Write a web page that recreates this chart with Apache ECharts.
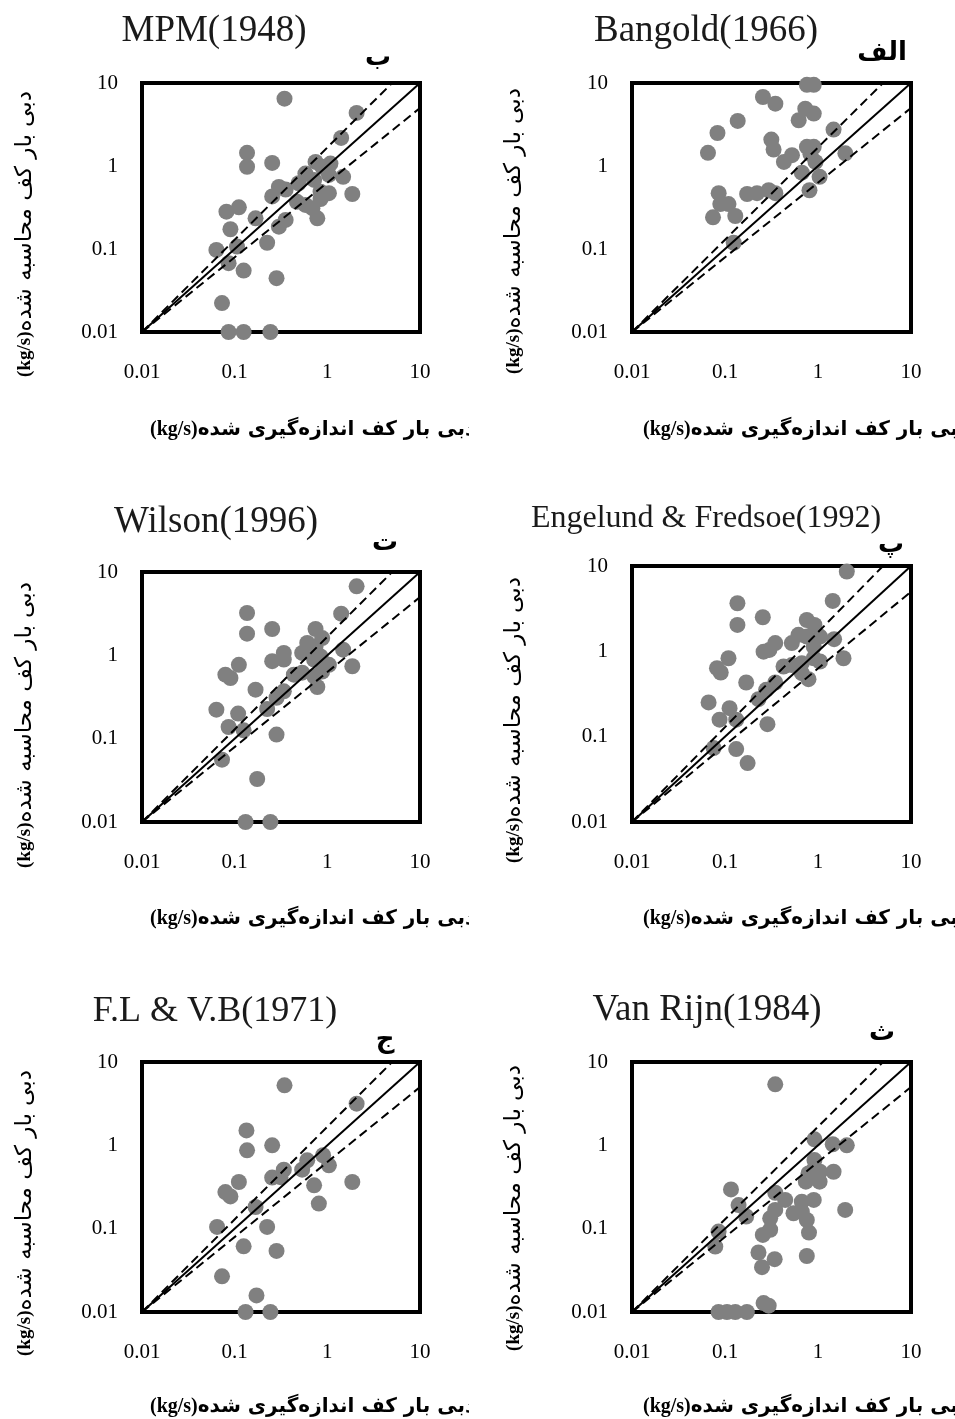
<!DOCTYPE html>
<html>
<head>
<meta charset="utf-8">
<script src="https://cdn.jsdelivr.net/npm/echarts@6/dist/echarts.min.js"></script>
<style>
html,body{margin:0;padding:0;background:#fff;}
#c{width:955px;height:1419px;}
</style>
</head>
<body>
<div id="c"></div>
<script>
// ---------- data ----------
const tickValues = [0.01, 0.1, 1, 10];
const tickLabels = ['0.01', '0.1', '1', '10'];
const titles = ['MPM(1948)', 'Bangold(1966)', 'Wilson(1996)', 'Engelund & Fredsoe(1992)', 'F.L & V.B(1971)', 'Van Rijn(1984)'];
const panelLetters = ['ب', 'الف', 'ت', 'پ', 'ج', 'ث'];
const xAxisTitle = 'دبی بار کف اندازه\u200cگیری شده';
const yAxisTitle = 'دبی بار کف محاسبه شده';
const unitLabel = '(kg/s)';

// MPM(1948)
const mpmX = [0.345, 2.07, 1.41, 0.136, 0.136, 0.254, 0.746, 0.88, 1.04, 0.58, 1.48, 0.72, 0.49, 0.30, 0.355, 0.254, 0.845, 1.04, 1.86, 0.845, 0.47, 0.58, 0.69, 0.78, 0.168, 0.355, 0.30, 0.111, 0.0815, 0.090, 0.106, 0.0635, 0.086, 0.224, 0.125, 0.283, 0.073, 0.086, 0.125, 0.243, 1.08];
const mpmY = [6.47, 4.36, 2.18, 1.44, 0.98, 1.09, 1.12, 0.98, 0.78, 0.81, 0.74, 0.68, 0.62, 0.56, 0.52, 0.43, 0.49, 0.47, 0.46, 0.40, 0.37, 0.34, 0.31, 0.234, 0.234, 0.224, 0.186, 0.318, 0.282, 0.173, 0.107, 0.0975, 0.0675, 0.119, 0.055, 0.0445, 0.0223, 0.01, 0.01, 0.01, 1.07];

// Bangold(1966)
const bagX = [0.76, 0.90, 0.256, 0.348, 0.73, 0.90, 0.62, 0.137, 0.083, 1.47, 0.315, 0.333, 0.0656, 0.76, 0.90, 0.83, 0.525, 0.43, 1.97, 0.94, 0.67, 1.04, 0.81, 0.0855, 0.173, 0.221, 0.295, 0.348, 0.089, 0.109, 0.0743, 0.129, 0.124];
const bagY = [9.5, 9.5, 6.78, 5.64, 4.91, 4.28, 3.56, 3.49, 2.50, 2.75, 2.08, 1.58, 1.44, 1.70, 1.70, 1.39, 1.35, 1.12, 1.42, 1.12, 0.83, 0.74, 0.51, 0.47, 0.46, 0.47, 0.51, 0.47, 0.348, 0.348, 0.241, 0.25, 0.119];

// Wilson(1996)
const wilX = [2.07, 0.136, 1.41, 0.136, 0.254, 0.746, 0.88, 0.607, 0.746, 0.339, 0.535, 1.48, 0.254, 0.339, 0.111, 1.04, 0.845, 1.86, 0.0794, 0.090, 0.435, 0.535, 0.72, 0.88, 0.78, 0.168, 0.339, 0.283, 0.224, 0.0635, 0.109, 0.086, 0.125, 0.283, 0.073, 0.175, 0.131, 0.243, 0.72];
const wilY = [6.73, 3.22, 3.16, 1.82, 2.07, 2.07, 1.61, 1.41, 1.28, 1.07, 1.07, 1.17, 0.85, 0.89, 0.77, 0.77, 0.97, 0.74, 0.586, 0.535, 0.586, 0.62, 0.56, 0.64, 0.417, 0.387, 0.37, 0.31, 0.227, 0.223, 0.20, 0.138, 0.126, 0.112, 0.056, 0.0328, 0.01, 0.01, 0.89];

// Engelund & Fredsoe(1992)
const engX = [2.04, 0.136, 1.44, 0.136, 0.255, 0.758, 0.916, 0.617, 0.758, 1.05, 0.523, 0.347, 1.49, 0.26, 0.30, 0.109, 0.082, 0.090, 0.426, 0.523, 0.67, 0.90, 1.88, 1.05, 0.67, 0.79, 0.169, 0.347, 0.277, 0.229, 0.0666, 0.112, 0.132, 0.0874, 0.286, 0.0754, 0.132, 0.175, 0.90];
const engY = [8.6, 3.66, 3.90, 2.04, 2.51, 2.33, 2.04, 1.56, 1.49, 1.49, 1.25, 1.25, 1.39, 0.99, 1.04, 0.83, 0.635, 0.565, 0.664, 0.69, 0.726, 0.83, 0.83, 0.76, 0.555, 0.472, 0.431, 0.431, 0.354, 0.275, 0.252, 0.216, 0.158, 0.158, 0.14, 0.0735, 0.0715, 0.049, 1.14];

// F.L & V.B(1971)
const flvX = [0.345, 2.07, 0.134, 0.136, 0.254, 0.90, 0.607, 1.04, 0.535, 0.339, 0.254, 0.312, 0.111, 0.72, 1.86, 0.0794, 0.090, 0.81, 0.168, 0.224, 0.0646, 0.125, 0.283, 0.073, 0.172, 0.131, 0.243];
const flvY = [5.25, 3.16, 1.51, 0.87, 1.0, 0.76, 0.66, 0.575, 0.51, 0.51, 0.41, 0.415, 0.363, 0.331, 0.363, 0.275, 0.244, 0.20, 0.182, 0.105, 0.105, 0.0614, 0.054, 0.0268, 0.0158, 0.01, 0.01];

// Van Rijn(1984)
const vrX = [0.347, 0.916, 1.44, 2.04, 0.916, 0.90, 1.05, 1.47, 0.79, 0.74, 1.04, 0.116, 0.347, 0.444, 0.67, 0.90, 0.14, 0.347, 0.545, 0.67, 0.169, 0.306, 0.758, 1.96, 0.0853, 0.255, 0.306, 0.80, 0.0786, 0.229, 0.342, 0.758, 0.25, 0.0853, 0.105, 0.129, 0.172, 0.26, 0.295];
const vrY = [5.40, 1.18, 1.03, 1.0, 0.665, 0.514, 0.482, 0.482, 0.46, 0.366, 0.366, 0.296, 0.27, 0.221, 0.211, 0.221, 0.192, 0.168, 0.153, 0.16, 0.14, 0.133, 0.127, 0.168, 0.0923, 0.0842, 0.097, 0.0898, 0.061, 0.0518, 0.043, 0.047, 0.0345, 0.01, 0.01, 0.01, 0.01, 0.0128, 0.0119];

const panelX = [mpmX, bagX, wilX, engX, flvX, vrX];
const panelY = [mpmY, bagY, wilY, engY, flvY, vrY];

// reference lines
const equalX = [0.01, 10], equalY = [0.01, 10];
const upperX = [0.01, 5], upperY = [0.01, 10];
const lowerX = [0.01, 10], lowerY = [0.01, 5];

// ---------- layout (pixels) ----------
const boxes = [
  {l: 142, t: 83, w: 278, h: 249},
  {l: 632, t: 83, w: 279, h: 249},
  {l: 142, t: 572, w: 278, h: 250},
  {l: 632, t: 566, w: 279, h: 256},
  {l: 142, t: 1062, w: 278, h: 250},
  {l: 632, t: 1062, w: 279, h: 250}
];
const titlePos = [[214, 31, 37], [706, 31, 37], [216, 522, 37], [706, 519, 32], [215, 1012, 36], [707, 1010, 37]];
const letterPos = [[378, 58], [882, 53], [385, 543], [891, 545], [385, 1040], [882, 1033]];
const xNamePos = [[150, 430], [643, 430], [150, 919], [643, 919], [150, 1407], [643, 1407]];
const yNamePos = [[25, 234], [514, 231], [25, 725], [514, 720], [25, 1213], [514, 1208]];

function fmt(v) {
  for (let i = 0; i < tickValues.length; i++) {
    if (Math.abs(Math.log10(v) - Math.log10(tickValues[i])) < 1e-6) return tickLabels[i];
  }
  return '';
}
const zip = (a, b) => a.map((v, i) => [v, b[i]]);

const grid = [], xAxis = [], yAxis = [], series = [], graphic = [];
const labelFont = {fontFamily: 'Liberation Serif', fontSize: 21, color: '#000'};

boxes.forEach((b, i) => {
  grid.push({left: b.l, top: b.t, width: b.w, height: b.h, show: true, borderColor: '#000', borderWidth: 4, backgroundColor: 'transparent', containLabel: false});
  xAxis.push({type: 'log', logBase: 10, min: 0.01, max: 10, gridIndex: i,
    axisLine: {show: false}, axisTick: {show: false}, splitLine: {show: false},
    axisLabel: Object.assign({margin: 30, formatter: fmt, showMinLabel: true, showMaxLabel: true}, labelFont)});
  yAxis.push({type: 'log', logBase: 10, min: 0.01, max: 10, gridIndex: i,
    axisLine: {show: false}, axisTick: {show: false}, splitLine: {show: false},
    axisLabel: Object.assign({margin: 24, formatter: fmt, showMinLabel: true, showMaxLabel: true}, labelFont)});
  series.push({type: 'scatter', xAxisIndex: i, yAxisIndex: i, data: zip(panelX[i], panelY[i]),
    symbol: 'circle', symbolSize: 16, itemStyle: {color: '#808080', opacity: 1}, clip: false, z: 2, silent: true});
  series.push({type: 'line', xAxisIndex: i, yAxisIndex: i, data: zip(equalX, equalY), symbol: 'none',
    lineStyle: {color: '#000', width: 2}, z: 4, silent: true});
  series.push({type: 'line', xAxisIndex: i, yAxisIndex: i, data: zip(upperX, upperY), symbol: 'none',
    lineStyle: {color: '#000', width: 2, type: [9, 5]}, z: 4, silent: true});
  series.push({type: 'line', xAxisIndex: i, yAxisIndex: i, data: zip(lowerX, lowerY), symbol: 'none',
    lineStyle: {color: '#000', width: 2, type: [9, 5]}, z: 4, silent: true});

  const tp = titlePos[i];
  graphic.push({type: 'text', x: tp[0], y: tp[1], silent: true,
    style: {text: titles[i], font: tp[2] + 'px "Liberation Serif"', fill: '#1a1a1a', textAlign: 'center', textVerticalAlign: 'middle'}});
  const lp = letterPos[i];
  graphic.push({type: 'text', x: lp[0], y: lp[1], silent: true,
    style: {text: panelLetters[i], font: 'bold 26px "DejaVu Sans"', fill: '#000', textAlign: 'center', textVerticalAlign: 'middle'}});
  const xp = xNamePos[i];
  graphic.push({type: 'text', x: xp[0], y: xp[1], silent: true,
    style: {text: '{u|' + unitLabel + '}{a|' + xAxisTitle + '}', textAlign: 'left', textVerticalAlign: 'middle',
      rich: {u: {font: 'bold 20px "Liberation Serif"', fill: '#000'}, a: {font: 'bold 20px "DejaVu Sans"', fill: '#000'}}}});
  const yp = yNamePos[i];
  graphic.push({type: 'text', x: yp[0], y: yp[1], rotation: Math.PI / 2, silent: true,
    style: {text: '{u|' + unitLabel + '}{a|' + yAxisTitle + '}', textAlign: 'center', textVerticalAlign: 'middle',
      rich: {u: {font: 'bold 19px "Liberation Serif"', fill: '#000'}, a: {font: '23px "DejaVu Sans"', fill: '#000'}}}});
});
// clip the x-axis caption of the left column at the column edge
graphic.push({type: 'rect', shape: {x: 469, y: 400, width: 30, height: 1019}, style: {fill: '#fff'}, z: 100, silent: true});

const chart = echarts.init(document.getElementById('c'), null, {renderer: 'canvas'});
chart.setOption({animation: false, backgroundColor: '#fff', grid, xAxis, yAxis, series, graphic});
</script>
</body>
</html>
